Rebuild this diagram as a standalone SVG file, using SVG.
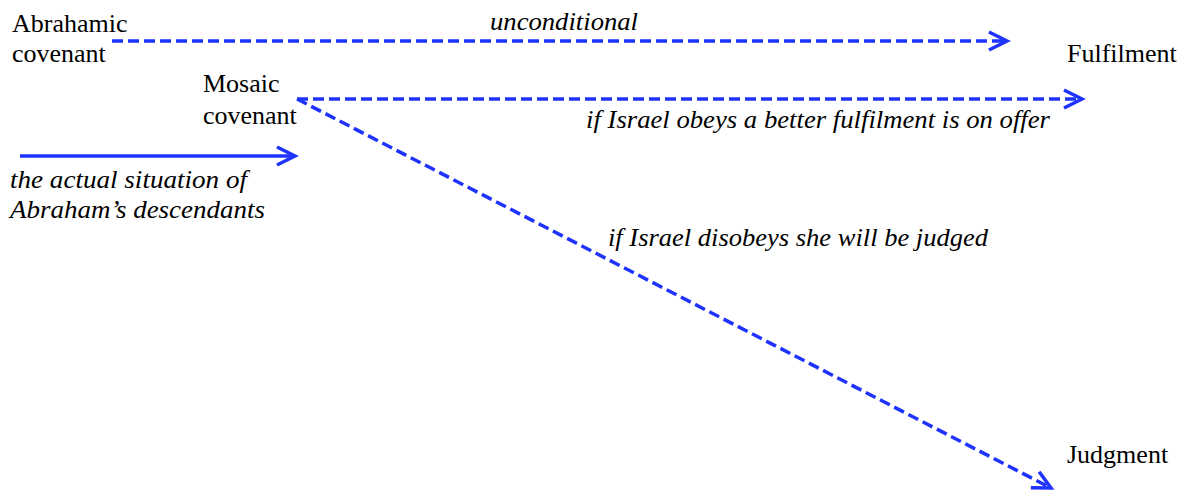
<svg xmlns="http://www.w3.org/2000/svg" width="1183" height="491" viewBox="0 0 1183 491">
<style>
text{font-family:"Liberation Serif","Times New Roman",serif;font-size:26px;fill:#000}
.it{font-style:italic}
.ln{stroke:#1f33ff;stroke-width:3.5;fill:none}
.ds{stroke-dasharray:11 5}
</style>
<defs>
<marker id="arr" markerUnits="userSpaceOnUse" viewBox="-22 -12 24 24" markerWidth="24" markerHeight="24" refX="0" refY="0" orient="auto" overflow="visible">
<path d="M-18,-9 L0,0 L-18,9" fill="none" stroke="#1f33ff" stroke-width="3.5"/>
</marker>
</defs>
<rect width="1183" height="491" fill="#fff"/>
<g id="connectors">
<line class="ln ds" x1="112" y1="41" x2="1007" y2="41" marker-end="url(#arr)"/>
<line class="ln ds" x1="297" y1="99" x2="1082" y2="99" marker-end="url(#arr)"/>
<line class="ln ds" x1="297" y1="99" x2="1051" y2="488" marker-end="url(#arr)"/>
<line class="ln" x1="20" y1="156" x2="295" y2="156" marker-end="url(#arr)"/>
<text class="it" x="490" y="30" textLength="148" lengthAdjust="spacingAndGlyphs">unconditional</text>
<text class="it" x="586" y="128" textLength="464" lengthAdjust="spacingAndGlyphs">if Israel obeys a better fulfilment is on offer</text>
<text class="it" x="608" y="246" textLength="380" lengthAdjust="spacingAndGlyphs">if Israel disobeys she will be judged</text>
<text class="it" x="10" y="188" textLength="237" lengthAdjust="spacingAndGlyphs">the actual situation of</text>
<text class="it" x="10" y="218" textLength="255" lengthAdjust="spacingAndGlyphs">Abraham’s descendants</text>
</g>
<g id="abrahamic">
<text x="12" y="32">Abrahamic</text>
<text x="12" y="62">covenant</text>
</g>
<g id="mosaic">
<text x="203" y="92">Mosaic</text>
<text x="203" y="124">covenant</text>
</g>
<g id="fulfilment">
<text x="1067" y="62">Fulfilment</text>
</g>
<g id="judgment">
<text x="1067" y="463">Judgment</text>
</g>
</svg>
